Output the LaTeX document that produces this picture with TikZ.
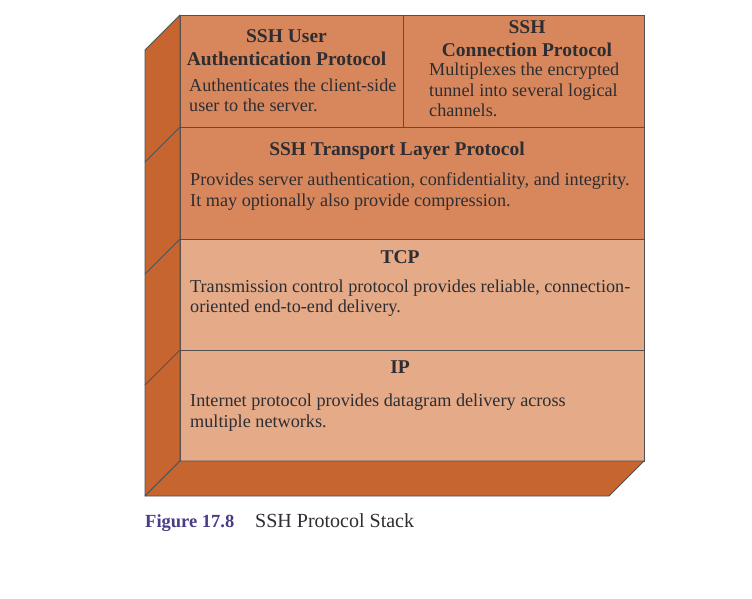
\documentclass[tikz,border=0pt]{standalone}
\usepackage{xcolor}
\usepackage{fontspec}
\setmainfont{Liberation Serif}
\usetikzlibrary{positioning, calc}
\definecolor{sshorange}{RGB}{216, 135, 92}
\definecolor{netpeach}{RGB}{229, 170, 136}
\definecolor{sideorange}{RGB}{198, 101, 48}
\definecolor{edgegray}{RGB}{80, 80, 80}
\definecolor{inkgray}{RGB}{45, 45, 50}
\definecolor{figpurple}{RGB}{72, 62, 135}

\tikzset{
    layer/.style={draw=edgegray, line width=0.8pt, inner sep=0pt, outer sep=0pt, anchor=north west},
    heading/.style={font=\bfseries\fontsize{19.5}{23.5}\selectfont, text=inkgray, align=center, inner sep=0pt, anchor=base},
    bodytext/.style={font=\fontsize{18.2}{20.5}\selectfont, text=inkgray, align=left, inner sep=0pt, anchor=base west},
    face/.style={fill=sideorange, draw=edgegray, line width=0.8pt, line join=round}
}

\begin{document}
\begin{tikzpicture}[x=1pt, y=-1pt]
    \useasboundingbox (0,0) rectangle (752,599);

    % front faces of the stack
    \node[layer, fill=sshorange, minimum width=223pt, minimum height=112pt] (user) at (180,15) {};
    \node[layer, fill=sshorange, minimum width=241pt, minimum height=112pt] (conn) at (user.north east) {};
    \node[layer, fill=sshorange, minimum width=464pt, minimum height=112pt] (trans) at (user.south west) {};
    \node[layer, fill=netpeach, minimum width=464pt, minimum height=111pt] (tcp) at (trans.south west) {};
    \node[layer, fill=netpeach, minimum width=464pt, minimum height=111pt] (ip) at (tcp.south west) {};

    % side and bottom faces
    \draw[face] (user.north west) -- ++(-35,35) -- ($(ip.south west)+(-35,35)$) -- (ip.south west) -- cycle;
    \draw[face] (ip.south west) -- ++(-35,35) -- ($(ip.south east)+(-35,35)$) -- (ip.south east) -- cycle;
    \foreach \lyr in {trans, tcp, ip}
        \draw[edgegray, line width=0.8pt] (\lyr.north west) -- ++(-35,35);

    % layer texts (base = last line)
    \node[heading] (usertitle) at (286.5,65.7) {SSH User\\Authentication Protocol};
    \node[bodytext] (userbody) at (189,111.5) {Authenticates the client-side\\user to the server.};
    \node[heading] (conntitle) at (527,57) {SSH\\Connection Protocol};
    \node[bodytext] (connbody) at (429,117) {Multiplexes the encrypted\\tunnel into several logical\\channels.};
    \node[heading] (transtitle) at (397,155) {SSH Transport Layer Protocol};
    \node[bodytext] (transbody) at (190,206) {Provides server authentication, confidentiality, and integrity.\\It may optionally also provide compression.};
    \node[heading] (tcptitle) at (400,263.8) {TCP};
    \node[bodytext] (tcpbody) at (190,312.8) {Transmission control protocol provides reliable, connection-\\oriented end-to-end delivery.};
    \node[heading] (iptitle) at (400,373.8) {IP};
    \node[bodytext] (ipbody) at (190,427.2) {Internet protocol provides datagram delivery across\\multiple networks.};

    % caption
    \node[anchor=base west, inner sep=0pt, font=\bfseries\fontsize{18.5}{22}\selectfont, text=figpurple] (fignum) at (145,527) {Figure 17.8};
    \node[anchor=base west, inner sep=0pt, font=\fontsize{20}{24}\selectfont, text=inkgray] (figtitle) at (255,527) {SSH Protocol Stack};
\end{tikzpicture}
\end{document}
